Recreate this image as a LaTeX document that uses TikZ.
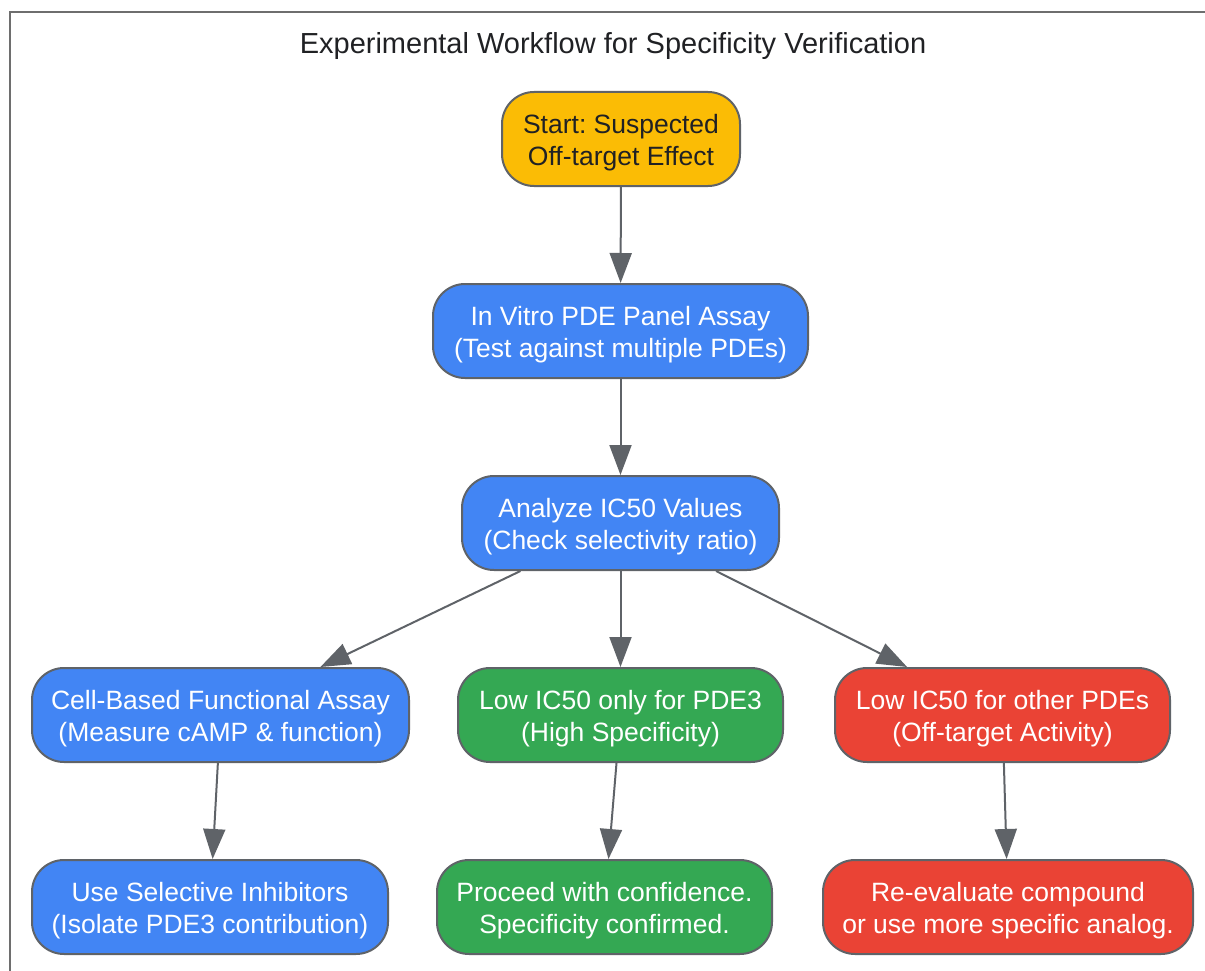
\documentclass[tikz,border=0pt]{standalone}
\usepackage{fontspec}
\setmainfont{Liberation Sans}
\usetikzlibrary{arrows.meta}
\definecolor{linegray}{HTML}{5F6368}
\definecolor{framegray}{HTML}{6E6E6E}
\definecolor{textdark}{HTML}{202124}
\definecolor{gyellow}{HTML}{FBBC05}
\definecolor{gblue}{HTML}{4285F4}
\definecolor{ggreen}{HTML}{34A853}
\definecolor{gred}{HTML}{EA4335}
\tikzset{>={Triangle[length=30pt,width=22pt]}}
\frenchspacing

\begin{document}
\begin{tikzpicture}[x=1pt,y=-1pt,
    box/.style={draw=linegray, line width=2pt, rounded corners=32pt,
        minimum height=94pt, inner xsep=0pt, align=center, text=white,
        font=\fontsize{26.5}{32}\selectfont, text height=58pt, text depth=6pt},
    startbox/.style={box, fill=gyellow, text=textdark},
    bluebox/.style={box, fill=gblue},
    greenbox/.style={box, fill=ggreen},
    redbox/.style={box, fill=gred},
    link/.style={->, draw=linegray, line width=2pt}]
    \useasboundingbox (0,0) rectangle (1205,971);

    % frame and title
    \draw[framegray, line width=2pt] (10,971) -- (10,12) -- (1205,12);
    \node[text=textdark, font=\fontsize{29}{34}\selectfont] (title) at (613,46)
        {Experimental Workflow for Specificity Verification};

    % main column
    \node[startbox, minimum width=238pt] (start) at (621,139)
        {Start: Suspected\\Off-target Effect};
    \node[bluebox, minimum width=375pt] (panel) at (620.5,331)
        {In Vitro PDE Panel Assay\\(Test against multiple PDEs)};
    \node[bluebox, minimum width=317pt] (analyze) at (620.5,523)
        {Analyze IC50 Values\\(Check selectivity ratio)};

    % branches
    \node[bluebox, minimum width=377pt] (cell) at (220.5,715)
        {Cell-Based Functional Assay\\(Measure cAMP \& function)};
    \node[greenbox, minimum width=325pt] (pdethree) at (620.5,715)
        {Low IC50 only for PDE3\\(High Specificity)};
    \node[redbox, minimum width=335pt] (others) at (1002.5,715)
        {Low IC50 for other PDEs\\(Off-target Activity)};

    % outcomes
    \node[bluebox, minimum width=356pt] (inhib) at (210,907)
        {Use Selective Inhibitors\\(Isolate PDE3 contribution)};
    \node[greenbox, minimum width=335pt] (proceed) at (604.5,907)
        {Proceed with confidence.\\Specificity confirmed.};
    \node[redbox, minimum width=370pt] (reeval) at (1008,907)
        {Re-evaluate compound\\or use more specific analog.};

    \draw[link] (start) -- (panel);
    \draw[link] (panel) -- (analyze);
    \draw[link] (analyze) -- (cell);
    \draw[link] (analyze) -- (pdethree);
    \draw[link] (analyze) -- (others);
    \draw[link] (cell) -- (inhib);
    \draw[link] (pdethree) -- (proceed);
    \draw[link] (others) -- (reeval);
\end{tikzpicture}
\end{document}
